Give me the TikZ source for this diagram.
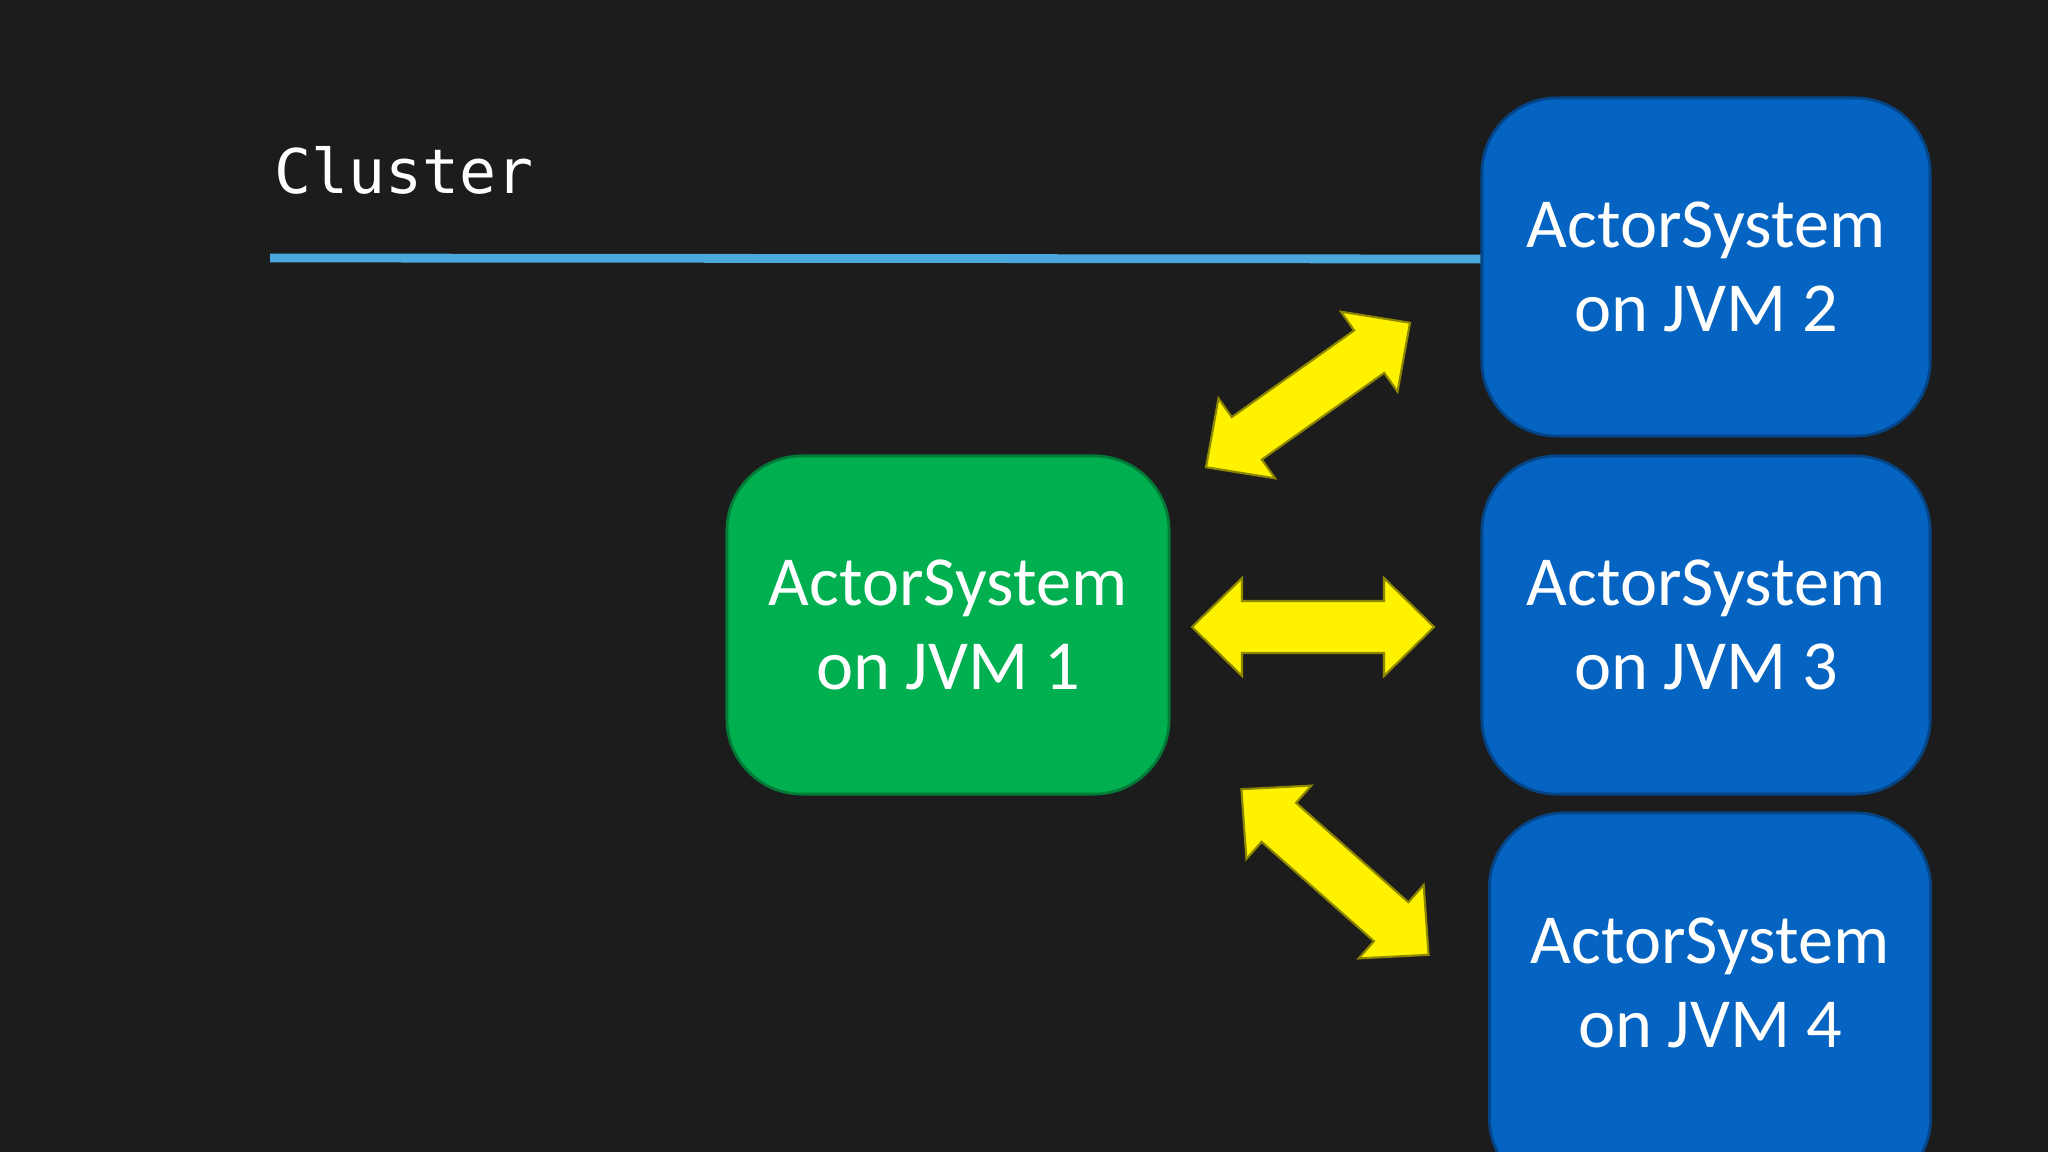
\documentclass[tikz,border=0pt]{standalone}
\usepackage{fontspec}
\setmainfont{Carlito}
\newfontfamily\monofont{DejaVu Sans Mono}
\usetikzlibrary{calc}
\definecolor{bg}{HTML}{1C1C1C}
\definecolor{boxblue}{HTML}{0563C1}
\definecolor{boxgreen}{HTML}{00B050}
\definecolor{rule}{HTML}{4AA8DC}
\tikzset{
  sys/.style={draw=#1!70!black, fill=#1, rounded corners=0.75cm, text=white, align=center,
    font=\fontsize{20}{24}\selectfont, line width=0.8pt},
  dbl/.style={fill=yellow, draw=olive, line width=0.6pt}
}
\newcommand{\dblarrow}[4]{% x, y, angle, halflength
  \begin{scope}[shift={(#1,#2)}, rotate=#3]
    \path[dbl] (-#4,0) -- (-#4+50,49) -- (-#4+50,26) -- (#4-50,26) -- (#4-50,49) -- (#4,0)
      -- (#4-50,-49) -- (#4-50,-26) -- (-#4+50,-26) -- (-#4+50,-49) -- cycle;
  \end{scope}}
\begin{document}
\begin{tikzpicture}[x=0.01cm,y=-0.01cm]
\fill[bg] (0,0) rectangle (2048,1152);
\useasboundingbox (0,0) rectangle (2048,1152);
\node[anchor=west,text=white,font=\monofont\fontsize{17.5}{20}\selectfont] (title) at (262,170) {Cluster};
\coordinate (ls) at (270,258);
\coordinate (le) at (1482,259);
\draw[rule, line width=2.5pt] (ls) -- (le);
\node[sys=boxgreen, minimum width=4.42cm, minimum height=3.38cm] (j1) at (948,625) {ActorSystem\\on JVM 1};
\node[sys=boxblue, minimum width=4.48cm, minimum height=3.38cm] (j2) at (1706,267) {ActorSystem\\on JVM 2};
\node[sys=boxblue, minimum width=4.48cm, minimum height=3.38cm] (j3) at (1706,625) {ActorSystem\\on JVM 3};
\begin{scope}
\clip (0,0) rectangle (2048,1152);
\node[sys=boxblue, minimum width=4.41cm, minimum height=3.8cm] (j4) at (1710,1003) {};
\end{scope}
\node[sys=boxblue, draw=none, fill=none] (j4t) at (1710,983) {ActorSystem\\on JVM 4};
\dblarrow{1308}{395}{35.3}{125}
\dblarrow{1313}{627}{0}{121}
\dblarrow{1335}{872}{-41.5}{125}
\end{tikzpicture}
\end{document}
